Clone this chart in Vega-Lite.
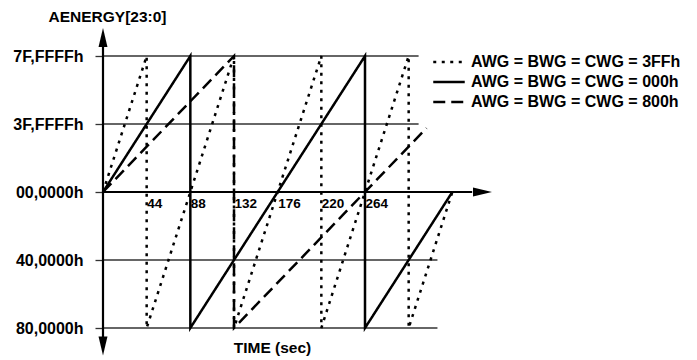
{
  "$schema": "https://vega.github.io/schema/vega-lite/v6.json",
  "width": 262,
  "height": 272,
  "autosize": {"type": "none"},
  "padding": {"left": 103, "top": 56, "right": 332, "bottom": 32},
  "background": "white",
  "config": {"view": {"stroke": null}, "font": "Liberation Sans"},
  "encoding": {
    "x": {
      "field": "t", "type": "quantitative",
      "scale": {"domain": [0, 264], "nice": false, "zero": false},
      "axis": {
        "orient": "bottom", "offset": -136, "values": [44, 88, 132, 176, 220, 264],
        "domain": false, "grid": false, "ticks": false, "tickSize": 0,
        "labelAlign": "left", "labelDx": 5, "labelBaseline": "alphabetic", "labelPadding": 15,
        "labelFont": "Liberation Sans", "labelFontSize": 13.5, "labelFontWeight": "bold", "labelColor": "black",
        "labelOverlap": false, "labelFlush": false, "labelBound": false,
        "title": "TIME (sec)", "titleX": 169, "titleY": 155, "titleAlign": "center", "titleBaseline": "middle",
        "titleFont": "Liberation Sans", "titleFontSize": 15.5, "titleFontWeight": "bold", "titleColor": "black"
      }
    },
    "y": {
      "field": "v", "type": "quantitative",
      "scale": {"domain": [-1, 1], "nice": false, "zero": false},
      "axis": {
        "orient": "left", "values": [1, 0.5, 0, -0.5, -1],
        "labelExpr": "datum.value == 1 ? '7F,FFFFh' : datum.value == 0.5 ? '3F,FFFFh' : datum.value == 0 ? '00,0000h' : datum.value == -0.5 ? '40,0000h' : '80,0000h'",
        "domain": false, "grid": false, "ticks": true, "tickSize": 8, "tickColor": "#333", "tickWidth": 1.3,
        "labelPadding": 12, "labelFont": "Liberation Sans", "labelFontSize": 16, "labelFontWeight": "bold", "labelColor": "black",
        "labelOverlap": false, "labelFlush": false, "labelBound": false, "labelDy": 1.5,
        "title": "AENERGY[23:0]", "titleAngle": 0, "titleX": 4, "titleY": -40, "titleAlign": "center", "titleBaseline": "middle",
        "titleFont": "Liberation Sans", "titleFontSize": 15.5, "titleFontWeight": "bold", "titleColor": "black"
      }
    }
  },
  "layer": [
    {
      "data": {"values": [
        {"t": 0, "t2": 318, "v": 1},
        {"t": 0, "t2": 318, "v": 0.5},
        {"t": 0, "t2": 337, "v": -0.5},
        {"t": 0, "t2": 337, "v": -1}
      ]},
      "mark": {"type": "rule", "color": "#333", "strokeWidth": 1.3},
      "encoding": {"x2": {"field": "t2"}}
    },
    {
      "data": {"values": [{"t": 0, "v": 1.07, "v2": -1.07}]},
      "mark": {"type": "rule", "color": "black", "strokeWidth": 2.2},
      "encoding": {"y2": {"field": "v2"}}
    },
    {
      "data": {"values": [{"t": 0, "t2": 372, "v": 0}]},
      "mark": {"type": "rule", "color": "black", "strokeWidth": 2.2},
      "encoding": {"x2": {"field": "t2"}}
    },
    {
      "data": {"values": [
        {"t": 0, "v": 1.136, "dir": "up"},
        {"t": 0, "v": -1.132, "dir": "down"},
        {"t": 382.4, "v": 0, "dir": "right"}
      ]},
      "mark": {"type": "point", "filled": true, "color": "black", "opacity": 1, "size": 361, "strokeWidth": 0},
      "encoding": {
        "shape": {
          "field": "dir", "type": "nominal", "legend": null,
          "scale": {
            "domain": ["up", "down", "right"],
            "range": ["M0,-1L0.47,1L-0.47,1Z", "M0,1L0.47,-1L-0.47,-1Z", "M1,0L-1,0.47L-1,-0.47Z"]
          }
        }
      }
    },
    {
      "data": {"values": [
        {"s": "AWG = BWG = CWG = 3FFh", "i": 0, "t": 0, "v": 0},
        {"s": "AWG = BWG = CWG = 3FFh", "i": 1, "t": 44, "v": 1},
        {"s": "AWG = BWG = CWG = 3FFh", "i": 2, "t": 44, "v": -1},
        {"s": "AWG = BWG = CWG = 3FFh", "i": 3, "t": 132, "v": 1},
        {"s": "AWG = BWG = CWG = 3FFh", "i": 4, "t": 132, "v": -1},
        {"s": "AWG = BWG = CWG = 3FFh", "i": 5, "t": 220, "v": 1},
        {"s": "AWG = BWG = CWG = 3FFh", "i": 6, "t": 220, "v": -1},
        {"s": "AWG = BWG = CWG = 3FFh", "i": 7, "t": 308, "v": 1},
        {"s": "AWG = BWG = CWG = 3FFh", "i": 8, "t": 308, "v": -1},
        {"s": "AWG = BWG = CWG = 3FFh", "i": 9, "t": 352, "v": 0},
        {"s": "AWG = BWG = CWG = 000h", "i": 0, "t": 0, "v": 0},
        {"s": "AWG = BWG = CWG = 000h", "i": 1, "t": 88, "v": 1},
        {"s": "AWG = BWG = CWG = 000h", "i": 2, "t": 88, "v": -1},
        {"s": "AWG = BWG = CWG = 000h", "i": 3, "t": 264, "v": 1},
        {"s": "AWG = BWG = CWG = 000h", "i": 4, "t": 264, "v": -1},
        {"s": "AWG = BWG = CWG = 000h", "i": 5, "t": 352, "v": 0},
        {"s": "AWG = BWG = CWG = 800h", "i": 0, "t": 0, "v": 0},
        {"s": "AWG = BWG = CWG = 800h", "i": 1, "t": 132, "v": 1},
        {"s": "AWG = BWG = CWG = 800h", "i": 2, "t": 132, "v": -1},
        {"s": "AWG = BWG = CWG = 800h", "i": 3, "t": 326, "v": 0.47}
      ]},
      "mark": {"type": "line", "color": "black", "strokeWidth": 2.5, "strokeCap": "butt"},
      "encoding": {
        "order": {"field": "i", "type": "quantitative"},
        "strokeDash": {
          "field": "s", "type": "nominal",
          "scale": {
            "domain": ["AWG = BWG = CWG = 3FFh", "AWG = BWG = CWG = 000h", "AWG = BWG = CWG = 800h"],
            "range": [[3, 5.5], [1, 0], [12, 6]]
          },
          "legend": {
            "orient": "none", "legendX": 334, "legendY": -6, "title": null,
            "symbolType": "M-1.5,0L1.5,0", "symbolSize": 441, "symbolStrokeWidth": 2.5, "symbolStrokeColor": "black",
            "symbolFillColor": "transparent",
            "labelFont": "Liberation Sans", "labelFontSize": 16, "labelFontWeight": "bold", "labelColor": "black",
            "labelOffset": 10, "labelLimit": 400, "rowPadding": -1
          }
        }
      }
    }
  ]
}
